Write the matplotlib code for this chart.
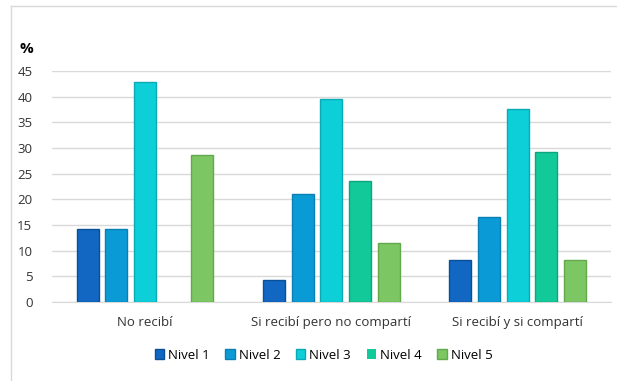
import matplotlib.pyplot as plt
from matplotlib.lines import Line2D
import numpy as np

categories = ['No recibí', 'Si recibí pero no compartí', 'Si recibí y si compartí']
levels = ['Nivel 1', 'Nivel 2', 'Nivel 3', 'Nivel 4', 'Nivel 5']
nivel_1 = [14.3, 4.3, 8.2]
nivel_2 = [14.3, 21.0, 16.5]
nivel_3 = [42.9, 39.6, 37.5]
nivel_4 = [0.0, 23.5, 29.2]
nivel_5 = [28.6, 11.6, 8.2]

colors = ['#1167c2', '#0a9bd6', '#0ccfd8', '#12c99a', '#7cc763']
edges = ['#0b4f96', '#0a7fb3', '#0aaab5', '#0ea47c', '#62a84c']

plt.rcParams['font.family'] = ['Open Sans', 'DejaVu Sans']

fig = plt.figure(figsize=(6.17, 3.81), dpi=100)
ax = fig.add_axes([0.084, 0.207, 0.906, 0.607])

x = np.arange(len(categories))
step = 0.154
width = 0.118
series = [nivel_1, nivel_2, nivel_3, nivel_4, nivel_5]
for i, vals in enumerate(series):
    ec = [edges[i] if v > 0 else 'none' for v in vals]
    ax.bar(x + (i - 2) * step, vals, width, color=colors[i], edgecolor=ec,
           linewidth=1.0, label=levels[i], zorder=3)

ax.set_xlim(-0.5, 2.5)
ax.set_ylim(0, 45)
ax.set_yticks(range(0, 46, 5))
ax.set_xticks(x)
ax.set_xticklabels(categories)
ax.tick_params(axis='both', length=0, labelsize=9.5, colors='#333333')
ax.tick_params(axis='x', pad=10)
ax.tick_params(axis='y', pad=14)
ax.grid(axis='y', color='#d9d9d9', linewidth=1.0, zorder=0)
for s in ['top', 'right', 'left']:
    ax.spines[s].set_visible(False)
ax.spines['bottom'].set_color('#d9d9d9')

fig.text(20 / 617, 1 - 49 / 381, '%', fontsize=11, fontweight='bold', va='center', ha='left')

ax.legend(loc='upper center', bbox_to_anchor=(0.486, -0.15), ncol=5, frameon=False,
          fontsize=9.5, handlelength=0.7, handleheight=0.7, handletextpad=0.3,
          columnspacing=1.2)

# chart border
fig.add_artist(Line2D([11 / 617, 11 / 617], [0.0, 1 - 6 / 381], color='#d9d9d9', lw=1.0))
fig.add_artist(Line2D([11 / 617, 1.0], [1 - 6 / 381, 1 - 6 / 381], color='#d9d9d9', lw=1.0))

fig.savefig('out.png', dpi=100)
